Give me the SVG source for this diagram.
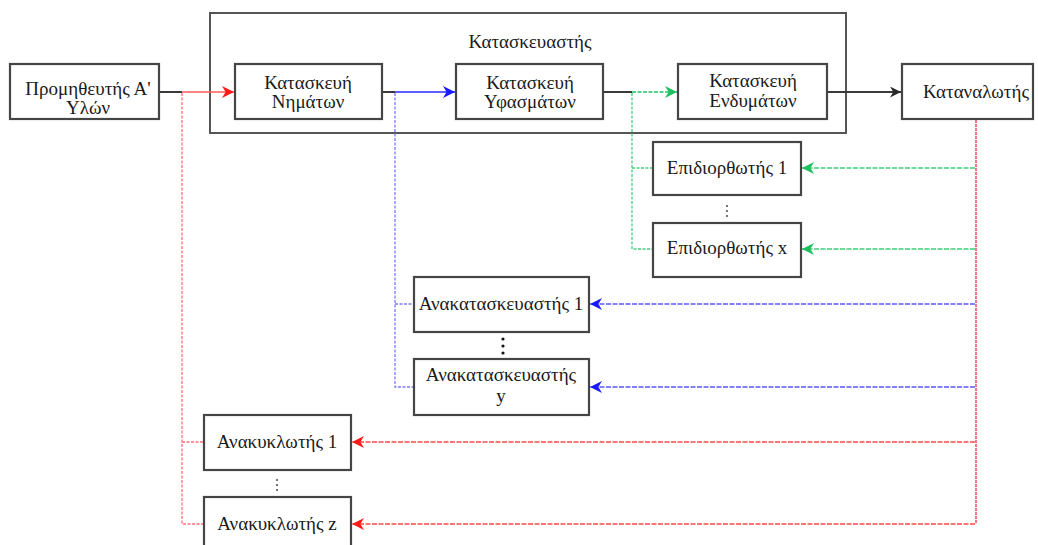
<svg xmlns="http://www.w3.org/2000/svg" width="1038" height="545" viewBox="0 0 1038 545">
  <style>
    .box { fill: #ffffff; stroke: #454545; stroke-width: 2.2; }
    .frame { fill: none; stroke: #555555; stroke-width: 2; }
    .lbl { font-family: "Liberation Serif", "Times New Roman", serif; font-size: 19px; fill: #1a1a1a; text-anchor: middle; }
    .solid { fill: none; stroke: #3a3a3a; stroke-width: 2; }
    .red { fill: none; stroke: #ff5a5a; stroke-width: 1.5; }
    .redv { fill: none; stroke: #ff6f7d; stroke-width: 1.3; stroke-dasharray: 3 1.5; }
    .redtrunk { fill: none; stroke: #ff6f80; stroke-width: 2; stroke-dasharray: 3 1; }
    .redfb { fill: none; stroke: #ff4a4a; stroke-width: 1.5; stroke-dasharray: 5 1.5; }
    .blue { fill: none; stroke: #2a2aff; stroke-width: 1.5; }
    .bluev { fill: none; stroke: #7a7aff; stroke-width: 1.3; stroke-dasharray: 3 1.5; }
    .bluefb { fill: none; stroke: #5a5aff; stroke-width: 1.5; stroke-dasharray: 5 1.5; }
    .green { fill: none; stroke: #22c56a; stroke-width: 1.5; stroke-dasharray: 4 1.5; }
    .greenv { fill: none; stroke: #44d07e; stroke-width: 1.3; stroke-dasharray: 3 1.5; }
    .greenfb { fill: none; stroke: #3ccf7a; stroke-width: 1.5; stroke-dasharray: 5 1.5; }
    .dots { fill: #555555; }
    .bdots { fill: #111111; }
  </style>
  <defs>
    <marker id="ah-black" viewBox="0 0 10 10" refX="10" refY="5" markerWidth="11" markerHeight="11" markerUnits="userSpaceOnUse" orient="auto">
      <path d="M0,0 L10,5 L0,10 L3,5 Z" fill="#2a2a2a"/>
    </marker>
    <marker id="ah-red" viewBox="0 0 10 10" refX="10" refY="5" markerWidth="12" markerHeight="12" markerUnits="userSpaceOnUse" orient="auto">
      <path d="M0,0 L10,5 L0,10 L3,5 Z" fill="#ff1a1a"/>
    </marker>
    <marker id="ah-blue" viewBox="0 0 10 10" refX="10" refY="5" markerWidth="12" markerHeight="12" markerUnits="userSpaceOnUse" orient="auto">
      <path d="M0,0 L10,5 L0,10 L3,5 Z" fill="#1a1aff"/>
    </marker>
    <marker id="ah-green" viewBox="0 0 10 10" refX="10" refY="5" markerWidth="12" markerHeight="12" markerUnits="userSpaceOnUse" orient="auto">
      <path d="M0,0 L10,5 L0,10 L3,5 Z" fill="#1fbf60"/>
    </marker>
  </defs>

  <rect width="1038" height="545" fill="#ffffff"/>

  <!-- manufacturer frame -->
  <g id="manufacturer">
    <rect class="frame" x="210" y="13" width="636" height="120"/>
    <text class="lbl" x="530" y="48">Κατασκευαστής</text>
  </g>

  <!-- connectors -->
  <g id="connectors">
    <!-- main forward chain -->
    <path class="solid" d="M159,92 H182"/>
    <path class="red" d="M182,92 H234" marker-end="url(#ah-red)"/>
    <path class="solid" d="M382,92 H395"/>
    <path class="blue" d="M395,92 H455" marker-end="url(#ah-blue)"/>
    <path class="solid" d="M603,92 H632"/>
    <path class="green" d="M632,92 H677" marker-end="url(#ah-green)"/>
    <path class="solid" d="M827,92 H901" marker-end="url(#ah-black)"/>

    <!-- consumer return trunk -->
    <path class="redtrunk" d="M976,120 V524"/>

    <!-- repairers -->
    <path class="greenfb" d="M975,168 H802" marker-end="url(#ah-green)"/>
    <path class="greenfb" d="M975,249 H802" marker-end="url(#ah-green)"/>
    <path class="greenv" d="M632,93 V249 H653"/>
    <path class="greenv" d="M632,168 H653"/>

    <!-- remanufacturers -->
    <path class="bluefb" d="M975,304 H590" marker-end="url(#ah-blue)"/>
    <path class="bluefb" d="M975,387 H590" marker-end="url(#ah-blue)"/>
    <path class="bluev" d="M395,93 V387 H414"/>
    <path class="bluev" d="M395,304 H414"/>

    <!-- recyclers -->
    <path class="redfb" d="M975,442 H352" marker-end="url(#ah-red)"/>
    <path class="redfb" d="M975,524 H352" marker-end="url(#ah-red)"/>
    <path class="redv" d="M182,93 V524 H204"/>
    <path class="redv" d="M182,442 H204"/>
  </g>

  <g id="supplier">
    <rect class="box" x="10" y="64" width="149" height="55"/>
    <text class="lbl" x="88" y="95">Προμηθευτής Α'</text>
    <text class="lbl" x="88" y="114">Υλών</text>
  </g>

  <g id="yarn">
    <rect class="box" x="235" y="64" width="147" height="55"/>
    <text class="lbl" x="308" y="89">Κατασκευή</text>
    <text class="lbl" x="308" y="108">Νημάτων</text>
  </g>

  <g id="fabric">
    <rect class="box" x="456" y="64" width="147" height="55"/>
    <text class="lbl" x="530" y="89">Κατασκευή</text>
    <text class="lbl" x="530" y="108">Υφασμάτων</text>
  </g>

  <g id="garment">
    <rect class="box" x="678" y="64" width="149" height="55"/>
    <text class="lbl" x="753" y="87">Κατασκευή</text>
    <text class="lbl" x="753" y="107">Ενδυμάτων</text>
  </g>

  <g id="consumer">
    <rect class="box" x="902" y="64" width="131" height="55"/>
    <text class="lbl" x="976" y="98">Καταναλωτής</text>
  </g>

  <g id="repairer-1">
    <rect class="box" x="653" y="142" width="148" height="53"/>
    <text class="lbl" x="727" y="174">Επιδιορθωτής 1</text>
  </g>

  <g id="repairer-dots">
    <circle class="dots" cx="727" cy="206" r="1.1"/>
    <circle class="dots" cx="727" cy="211" r="1.1"/>
    <circle class="dots" cx="727" cy="216" r="1.1"/>
  </g>

  <g id="repairer-x">
    <rect class="box" x="653" y="223" width="148" height="54"/>
    <text class="lbl" x="727" y="254">Επιδιορθωτής x</text>
  </g>

  <g id="remanufacturer-1">
    <rect class="box" x="414" y="277" width="175" height="55"/>
    <text class="lbl" x="501" y="310">Ανακατασκευαστής 1</text>
  </g>

  <g id="remanufacturer-dots">
    <circle class="bdots" cx="503" cy="339" r="1.6"/>
    <circle class="bdots" cx="503" cy="346" r="1.6"/>
    <circle class="bdots" cx="503" cy="353" r="1.6"/>
  </g>

  <g id="remanufacturer-y">
    <rect class="box" x="414" y="359" width="175" height="56"/>
    <text class="lbl" x="501" y="381">Ανακατασκευαστής</text>
    <text class="lbl" x="501" y="402">y</text>
  </g>

  <g id="recycler-1">
    <rect class="box" x="204" y="415" width="147" height="55"/>
    <text class="lbl" x="277" y="448">Ανακυκλωτής 1</text>
  </g>

  <g id="recycler-dots">
    <circle class="dots" cx="277" cy="480" r="1.1"/>
    <circle class="dots" cx="277" cy="485" r="1.1"/>
    <circle class="dots" cx="277" cy="490" r="1.1"/>
  </g>

  <g id="recycler-z">
    <rect class="box" x="204" y="497" width="147" height="60"/>
    <text class="lbl" x="277" y="530">Ανακυκλωτής z</text>
  </g>
</svg>
